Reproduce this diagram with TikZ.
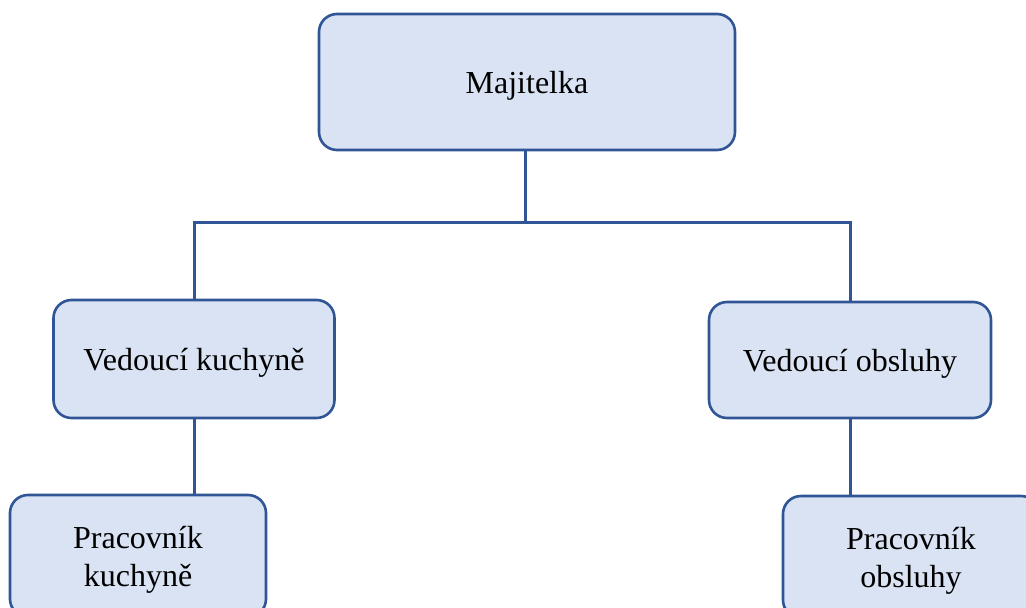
\documentclass[tikz,border=0pt]{standalone}
\usepackage{fontspec}
\setmainfont{Liberation Serif}
\definecolor{boxline}{HTML}{2F5597}
\definecolor{boxfill}{HTML}{DAE3F3}
% set a line of box text a little lower without changing its extents
\newcommand{\lowline}[1]{\raisebox{-4pt}[\height][\depth]{#1}}
\begin{document}
\begin{tikzpicture}[x=1pt,y=-1pt,
  orgbox/.style={draw=boxline, fill=boxfill, line width=2.6pt, rounded corners=18pt,
    inner sep=0pt, align=center, font=\fontsize{32}{37.5}\selectfont},
  link/.style={draw=boxline, line width=3pt}]
  \useasboundingbox (0,0) rectangle (1026,608);
  \clip (0,0) rectangle (1026,608);
  \node[orgbox, minimum width=416pt, minimum height=136pt] (top) at (527,82) {\lowline{Majitelka}};
  \node[orgbox, minimum width=281pt, minimum height=118pt] (lk) at (194,359) {\lowline{Vedoucí kuchyně}};
  \node[orgbox, minimum width=282pt, minimum height=116pt] (rk) at (850,360) {\lowline{Vedoucí obsluhy}};
  \node[orgbox, minimum width=256pt, minimum height=122pt] (bl) at (138,556) {\lowline{Pracovník}\\\lowline{kuchyně}};
  \node[orgbox, minimum width=256pt, minimum height=122pt] (br) at (911,557) {\lowline{Pracovník}\\\lowline{obsluhy}};
  \coordinate (j) at (525,222);
  \draw[link] (top.south -| j) -- (j);
  \draw[link] (lk.north) |- (j) -| (rk.north);
  \draw[link] (lk.south) -- (lk.south |- bl.north);
  \draw[link] (rk.south) -- (rk.south |- br.north);
\end{tikzpicture}
\end{document}
